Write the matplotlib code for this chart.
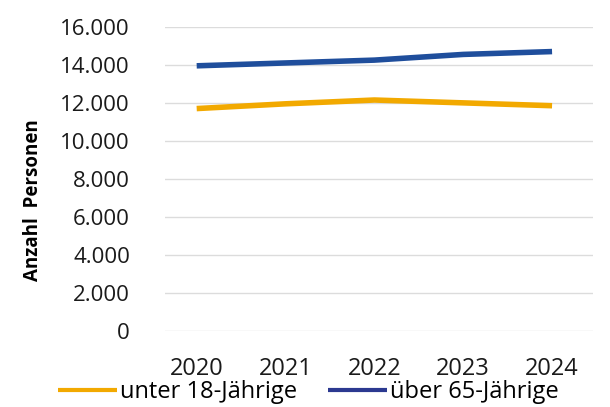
import matplotlib
matplotlib.use("Agg")
import matplotlib.pyplot as plt
from matplotlib.ticker import FuncFormatter

years = ["2020", "2021", "2022", "2023", "2024"]
unter18 = [11700, 11950, 12150, 12000, 11850]
ueber65 = [13950, 14100, 14250, 14550, 14700]
yticks = [0, 2000, 4000, 6000, 8000, 10000, 12000, 14000, 16000]

plt.rcParams['font.family'] = ['Open Sans', 'DejaVu Sans']

fig = plt.figure(figsize=(6.1, 4.07), dpi=100)
ax = fig.add_axes([0.270, 0.187, 0.702, 0.747])
x = list(range(len(years)))
ax.plot(x, unter18, color="#F2A900", lw=4, solid_capstyle="butt", label="unter 18-Jährige")
ax.plot(x, ueber65, color="#1F4E9C", lw=4, solid_capstyle="butt", label="über 65-Jährige")

ax.set_ylim(0, 16000)
ax.set_xlim(-0.36, 4.46)
ax.set_yticks(yticks)
ax.yaxis.set_major_formatter(FuncFormatter(lambda v, p: f"{int(v):,}".replace(",", ".")))
ax.set_xticks(x)
ax.set_xticklabels(years)
ax.grid(axis="y", color="#dcdcdc", lw=1)
ax.set_axisbelow(True)
for s in ax.spines.values():
    s.set_visible(False)
ax.tick_params(axis="both", length=0, colors="#1a1a1a")
ax.tick_params(axis="x", pad=19, labelsize=17)
ax.tick_params(axis="y", pad=25, labelsize=16)
ax.set_ylabel("Anzahl  Personen", fontsize=13.5, fontweight="bold")
ax.yaxis.set_label_coords(-0.285, 0.43)

leg = fig.legend(loc="lower center", bbox_to_anchor=(0.505, -0.045), ncol=2, frameon=False,
                 fontsize=17, handlelength=2.5, handletextpad=0.13, columnspacing=1.3)
for h in leg.get_lines():
    h.set_linewidth(3)
leg.get_lines()[1].set_color("#2B3990")
fig.savefig("out.png", dpi=100)
